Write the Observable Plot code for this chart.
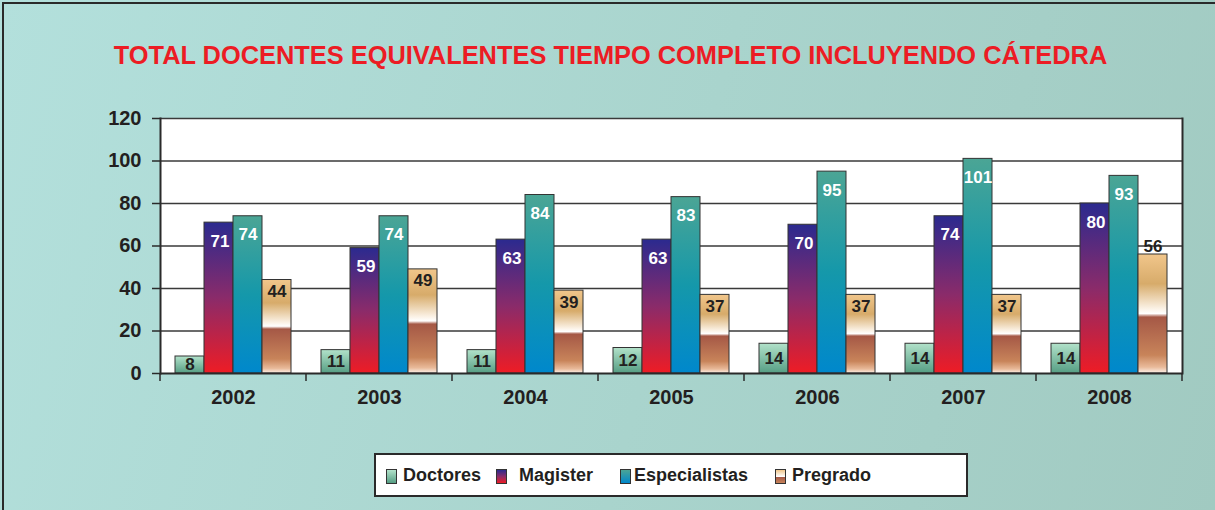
<!DOCTYPE html>
<html>
<head>
<meta charset="utf-8">
<script src="https://cdn.jsdelivr.net/npm/d3@7"></script>
<script src="https://cdn.jsdelivr.net/npm/@observablehq/plot@0.6"></script>
<style>
  html, body { margin: 0; padding: 0; }
  body { width: 1215px; height: 510px; overflow: hidden; font-family: "Liberation Sans", Arial, sans-serif; }
  #wrap { position: relative; width: 1215px; height: 510px;
    background: linear-gradient(105deg, #b3e0dc 0%, #a9d4cd 55%, #a1cac1 100%); }
  #edge { position: absolute; left: 2px; top: 2px; right: -4px; bottom: -4px;
    border-top: 2px solid #2a2a2a; border-left: 2px solid #2a2a2a; }
  #title { position: absolute; left: 3px; top: 38px; width: 1215px; text-align: center;
    font-size: 25.4px; font-weight: bold; color: #ec1c24; line-height: 34px; }
  #chart { position: absolute; left: 0; top: 90px; }
  #legend { position: absolute; left: 374px; top: 453px; width: 590px; height: 40px;
    background: #fff; border: 2px solid #2a2a2a; }
  .sw { position: absolute; top: 14px; width: 9px; height: 13px; border: 1px solid #333; }
  .lab { position: absolute; top: 9px; font-size: 18px; font-weight: bold; color: #231f20; white-space: nowrap; line-height: 22px; }
</style>
</head>
<body>
<div id="wrap">
  <div id="edge"></div>
  <div id="title">TOTAL DOCENTES EQUIVALENTES TIEMPO COMPLETO INCLUYENDO CÁTEDRA</div>
  <div id="chart"></div>
  <div id="legend"></div>
</div>
<script>
const years = ["2002", "2003", "2004", "2005", "2006", "2007", "2008"];
const series = ["Doctores", "Magister", "Especialistas", "Pregrado"];
const doctores = [8, 11, 11, 12, 14, 14, 14];
const magister = [71, 59, 63, 63, 70, 74, 80];
const especialistas = [74, 74, 84, 83, 95, 101, 93];
const pregrado = [44, 49, 39, 37, 37, 37, 56];
const yTicks = [0, 20, 40, 60, 80, 100, 120];

const valuesBySeries = {Doctores: doctores, Magister: magister, Especialistas: especialistas, Pregrado: pregrado};
const rows = [];
years.forEach((yr, i) => series.forEach(s => rows.push({year: yr, series: s, value: valuesBySeries[s][i]})));
const of = s => rows.filter(d => d.series === s);

const gradId = {Doctores: "gDoc", Magister: "gMag", Especialistas: "gEsp", Pregrado: "gPre"};
const gradStops = {
  gDoc: [[0, "#b2e2ca"], [1, "#569e84"]],
  gMag: [[0, "#2b2a8f"], [0.5, "#8a2b6a"], [1, "#ee1c25"]],
  gEsp: [[0, "#4ba595"], [0.5, "#1598aa"], [1, "#0088cc"]],
  gPre: [[0, "#f1c68b"], [0.25, "#d7ab6a"], [0.46, "#fbf2e6"], [0.5, "#ffffff"], [0.53, "#a55846"], [0.85, "#c8845a"], [0.95, "#e9ba9a"], [1, "#fcf0e8"]]
};

const txt = {fontSize: 17, fontWeight: "bold"};
const barStyle = {stroke: "#333", strokeWidth: 1};

const chart = Plot.plot({
  width: 1215,
  height: 330,
  marginLeft: 157,
  marginRight: 30,
  marginTop: 28,
  marginBottom: 47,
  style: {background: "transparent", fontFamily: "'Liberation Sans', Arial, sans-serif", overflow: "visible"},
  fx: {domain: years, paddingInner: 0, paddingOuter: 0, label: null},
  x: {domain: series, paddingInner: 0, paddingOuter: 0.5, axis: null},
  y: {domain: [0, 120]},
  marks: [
    Plot.frame({fill: "white", stroke: "white", strokeWidth: 1}),
    Plot.gridY(yTicks.slice(1), {stroke: "#3a3a3a", strokeOpacity: 1, strokeWidth: 1.4}),
    ...series.map(s => Plot.barY(of(s), {fx: "year", x: "series", y: "value", fill: `url(#${gradId[s]})`, ...barStyle})),
    Plot.ruleY([0], {stroke: "#2a2a2a", strokeWidth: 2}),
    Plot.frame({anchor: "left", facetAnchor: "left", stroke: "#2a2a2a", strokeWidth: 2}),
    Plot.frame({anchor: "right", facetAnchor: "right", stroke: "#2a2a2a", strokeWidth: 2}),
    Plot.text(of("Doctores"), {fx: "year", x: "series", y: d => d.value / 2, text: d => String(d.value), fill: "#231f20", ...txt}),
    Plot.text(of("Magister"), {fx: "year", x: "series", y: "value", text: d => String(d.value), fill: "white", lineAnchor: "top", dy: 12, dx: 1, ...txt}),
    Plot.text(of("Especialistas"), {fx: "year", x: "series", y: "value", text: d => String(d.value), fill: "white", lineAnchor: "top", dy: 12, ...txt}),
    Plot.text(of("Pregrado").filter(d => d.value <= 50), {fx: "year", x: "series", y: "value", text: d => String(d.value), fill: "#231f20", lineAnchor: "top", dy: 5, ...txt}),
    Plot.text(of("Pregrado").filter(d => d.value > 50), {fx: "year", x: "series", y: "value", text: d => String(d.value), fill: "#231f20", lineAnchor: "bottom", dy: -3, ...txt}),
    Plot.axisY({ticks: yTicks, tickSize: 8, tickPadding: 11, fontSize: 20, fontWeight: "bold", fill: "#231f20", stroke: "#2a2a2a", strokeWidth: 1.5, label: null}),
    Plot.axisFx({anchor: "bottom", tickSize: 0, tickPadding: 16, fontSize: 20, fontWeight: "bold", fill: "#231f20", label: null})
  ]
});

// gradients and group-boundary ticks from the plot's own scales
const svg = d3.select(chart);
const defs = svg.insert("defs", ":first-child");
Object.entries(gradStops).forEach(([id, stops]) => {
  const g = defs.append("linearGradient").attr("id", id).attr("x1", 0).attr("y1", 0).attr("x2", 0).attr("y2", 1);
  stops.forEach(([o, c]) => g.append("stop").attr("offset", o).attr("stop-color", c));
});
const fx = chart.scale("fx");
const ys = chart.scale("y");
const y0 = ys.apply(0);
const bounds = years.map(yr => fx.apply(yr)).concat([fx.apply(years[years.length - 1]) + fx.bandwidth]);
svg.append("g").selectAll("line").data(bounds).join("line")
  .attr("x1", d => d).attr("x2", d => d).attr("y1", y0).attr("y2", y0 + 8)
  .attr("stroke", "#2a2a2a").attr("stroke-width", 1.5);

document.getElementById("chart").appendChild(chart);

// legend
const legendCss = {
  Doctores: "linear-gradient(#b2e2ca, #569e84)",
  Magister: "linear-gradient(#2b2a8f, #8a2b6a, #ee1c25)",
  Especialistas: "linear-gradient(#4ba595, #0088cc)",
  Pregrado: "linear-gradient(#f1c68b 0%, #fbf2e6 40%, #ffffff 50%, #a55846 55%, #c8845a 100%)"
};
const legendPos = {Doctores: [10, 27], Magister: [120, 143], Especialistas: [244, 258], Pregrado: [399, 416]};
const legend = document.getElementById("legend");
series.forEach(s => {
  const sw = document.createElement("div");
  sw.className = "sw";
  sw.style.left = legendPos[s][0] + "px";
  sw.style.background = legendCss[s];
  legend.appendChild(sw);
  const lab = document.createElement("div");
  lab.className = "lab";
  lab.style.left = legendPos[s][1] + "px";
  lab.textContent = s;
  legend.appendChild(lab);
});
</script>
</body>
</html>
